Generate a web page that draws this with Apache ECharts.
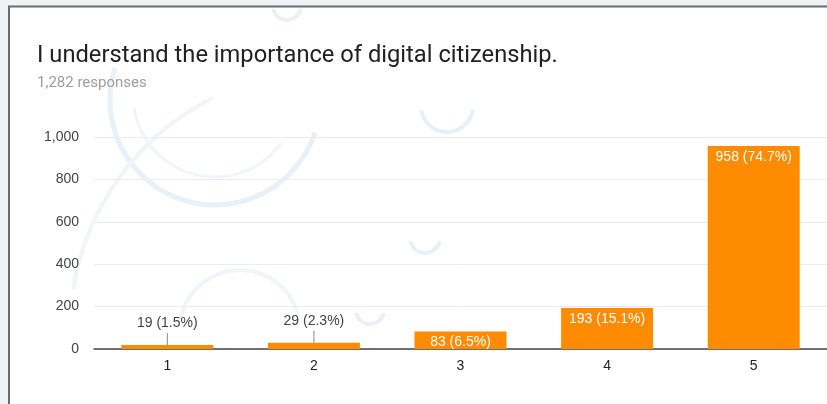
<!DOCTYPE html>
<html>
<head>
<meta charset="utf-8">
<script src="https://cdn.jsdelivr.net/npm/echarts@6/dist/echarts.min.js"></script>
<style>
html,body{margin:0;padding:0;background:#fff;}
#c{width:827px;height:404px;}
</style>
</head>
<body>
<div id="c"></div>
<script>
const categories = ['1', '2', '3', '4', '5'];
const counts = [19, 29, 83, 193, 958];
const percents = ['1.5%', '2.3%', '6.5%', '15.1%', '74.7%'];
const yTicks = [0, 200, 400, 600, 800, 1000];
const titleText = 'I understand the importance of digital citizenship.';
const subText = '1,282 responses';

const FONT = '"Liberation Sans", Arial, sans-serif';
const chart = echarts.init(document.getElementById('c'), null, {renderer: 'canvas'});

const barData = counts.map((v, i) => {
  const txt = v + ' (' + percents[i] + ')';
  if (v < 60) {
    return {
      value: v,
      label: {
        show: true,
        position: 'top',
        distance: 0,
        formatter: '{t|' + txt + '}\n{l|}',
        rich: {
          t: {fontSize: 14, color: '#444', lineHeight: 20, fontFamily: FONT},
          l: {width: 1, height: 12, backgroundColor: '#888'}
        }
      }
    };
  }
  return {
    value: v,
    label: {
      show: true,
      position: 'insideTop',
      distance: 4,
      color: '#fff',
      fontSize: 14,
      fontFamily: FONT,
      formatter: txt
    }
  };
});

const wm = '#e8f1f8';
const wm2 = '#eff5fa';
const PI = Math.PI;
chart.setOption({
  animation: false,
  backgroundColor: '#fff',
  graphic: [
    {type: 'arc', shape: {cx: 215, cy: 100, r: 105, startAngle: PI * 0.1, endAngle: PI * 1.1}, style: {fill: 'none', stroke: wm, lineWidth: 5}, z: 0, silent: true},
    {type: 'arc', shape: {cx: 215, cy: 95, r: 82, startAngle: PI * 0.2, endAngle: PI * 0.95}, style: {fill: 'none', stroke: wm2, lineWidth: 3}, z: 0, silent: true},
    {type: 'arc', shape: {cx: 447, cy: 106, r: 26, startAngle: 0.15, endAngle: PI - 0.15}, style: {fill: 'none', stroke: wm, lineWidth: 4}, z: 0, silent: true},
    {type: 'arc', shape: {cx: 425, cy: 238, r: 15, startAngle: 0.2, endAngle: PI - 0.2}, style: {fill: 'none', stroke: wm, lineWidth: 4}, z: 0, silent: true},
    {type: 'arc', shape: {cx: 370, cy: 310, r: 14, startAngle: 0.2, endAngle: PI - 0.2}, style: {fill: 'none', stroke: wm, lineWidth: 4}, z: 0, silent: true},
    {type: 'arc', shape: {cx: 287, cy: 6, r: 14, startAngle: 0.2, endAngle: PI - 0.2}, style: {fill: 'none', stroke: wm, lineWidth: 4}, z: 0, silent: true},
    {type: 'arc', shape: {cx: 240, cy: 330, r: 60, startAngle: -PI * 0.95, endAngle: -PI * 0.1}, style: {fill: 'none', stroke: wm2, lineWidth: 4}, z: 0, silent: true},
    {type: 'arc', shape: {cx: 330, cy: 330, r: 260, startAngle: PI * 1.05, endAngle: PI * 1.35}, style: {fill: 'none', stroke: wm2, lineWidth: 4}, z: 0, silent: true},
    {type: 'rect', shape: {x: 0, y: 0, width: 827, height: 6}, style: {fill: '#edf3f7'}, z: 1, silent: true},
    {type: 'rect', shape: {x: 0, y: 0, width: 8, height: 404}, style: {fill: '#edf3f7'}, z: 1, silent: true},
    {type: 'line', shape: {x1: 8, y1: 6.5, x2: 827, y2: 6.5}, style: {stroke: '#6b6b6b', lineWidth: 2}, z: 1, silent: true},
    {type: 'line', shape: {x1: 9, y1: 6, x2: 9, y2: 404}, style: {stroke: '#6b6b6b', lineWidth: 2}, z: 1, silent: true}
  ],
  title: {
    text: titleText,
    subtext: subText,
    left: 32,
    top: 39,
    itemGap: 8,
    textStyle: {fontSize: 23.7, fontWeight: 'normal', color: '#212121', fontFamily: 'Roboto, Arial'},
    subtextStyle: {fontSize: 15, color: '#9e9e9e', fontFamily: 'Roboto, Arial'}
  },
  grid: {left: 94, right: -9, top: 137, bottom: 55, containLabel: false},
  xAxis: {
    type: 'category',
    data: categories,
    axisLine: {show: true, lineStyle: {color: '#444', width: 1.5}},
    axisTick: {show: false},
    axisLabel: {color: '#222', fontSize: 14, margin: 10, fontFamily: FONT}
  },
  yAxis: {
    type: 'value',
    min: yTicks[0],
    max: yTicks[yTicks.length - 1],
    interval: yTicks[1] - yTicks[0],
    axisLine: {show: false},
    axisTick: {show: false},
    axisLabel: {
      color: '#444', fontSize: 14, margin: 15, fontFamily: FONT,
      formatter: v => v.toLocaleString('en-US')
    },
    splitLine: {lineStyle: {color: '#ececec', width: 1}}
  },
  series: [{
    type: 'bar',
    data: barData,
    barWidth: 92,
    itemStyle: {color: '#ff8c00'},
    z: 3
  }]
});
</script>
</body>
</html>
